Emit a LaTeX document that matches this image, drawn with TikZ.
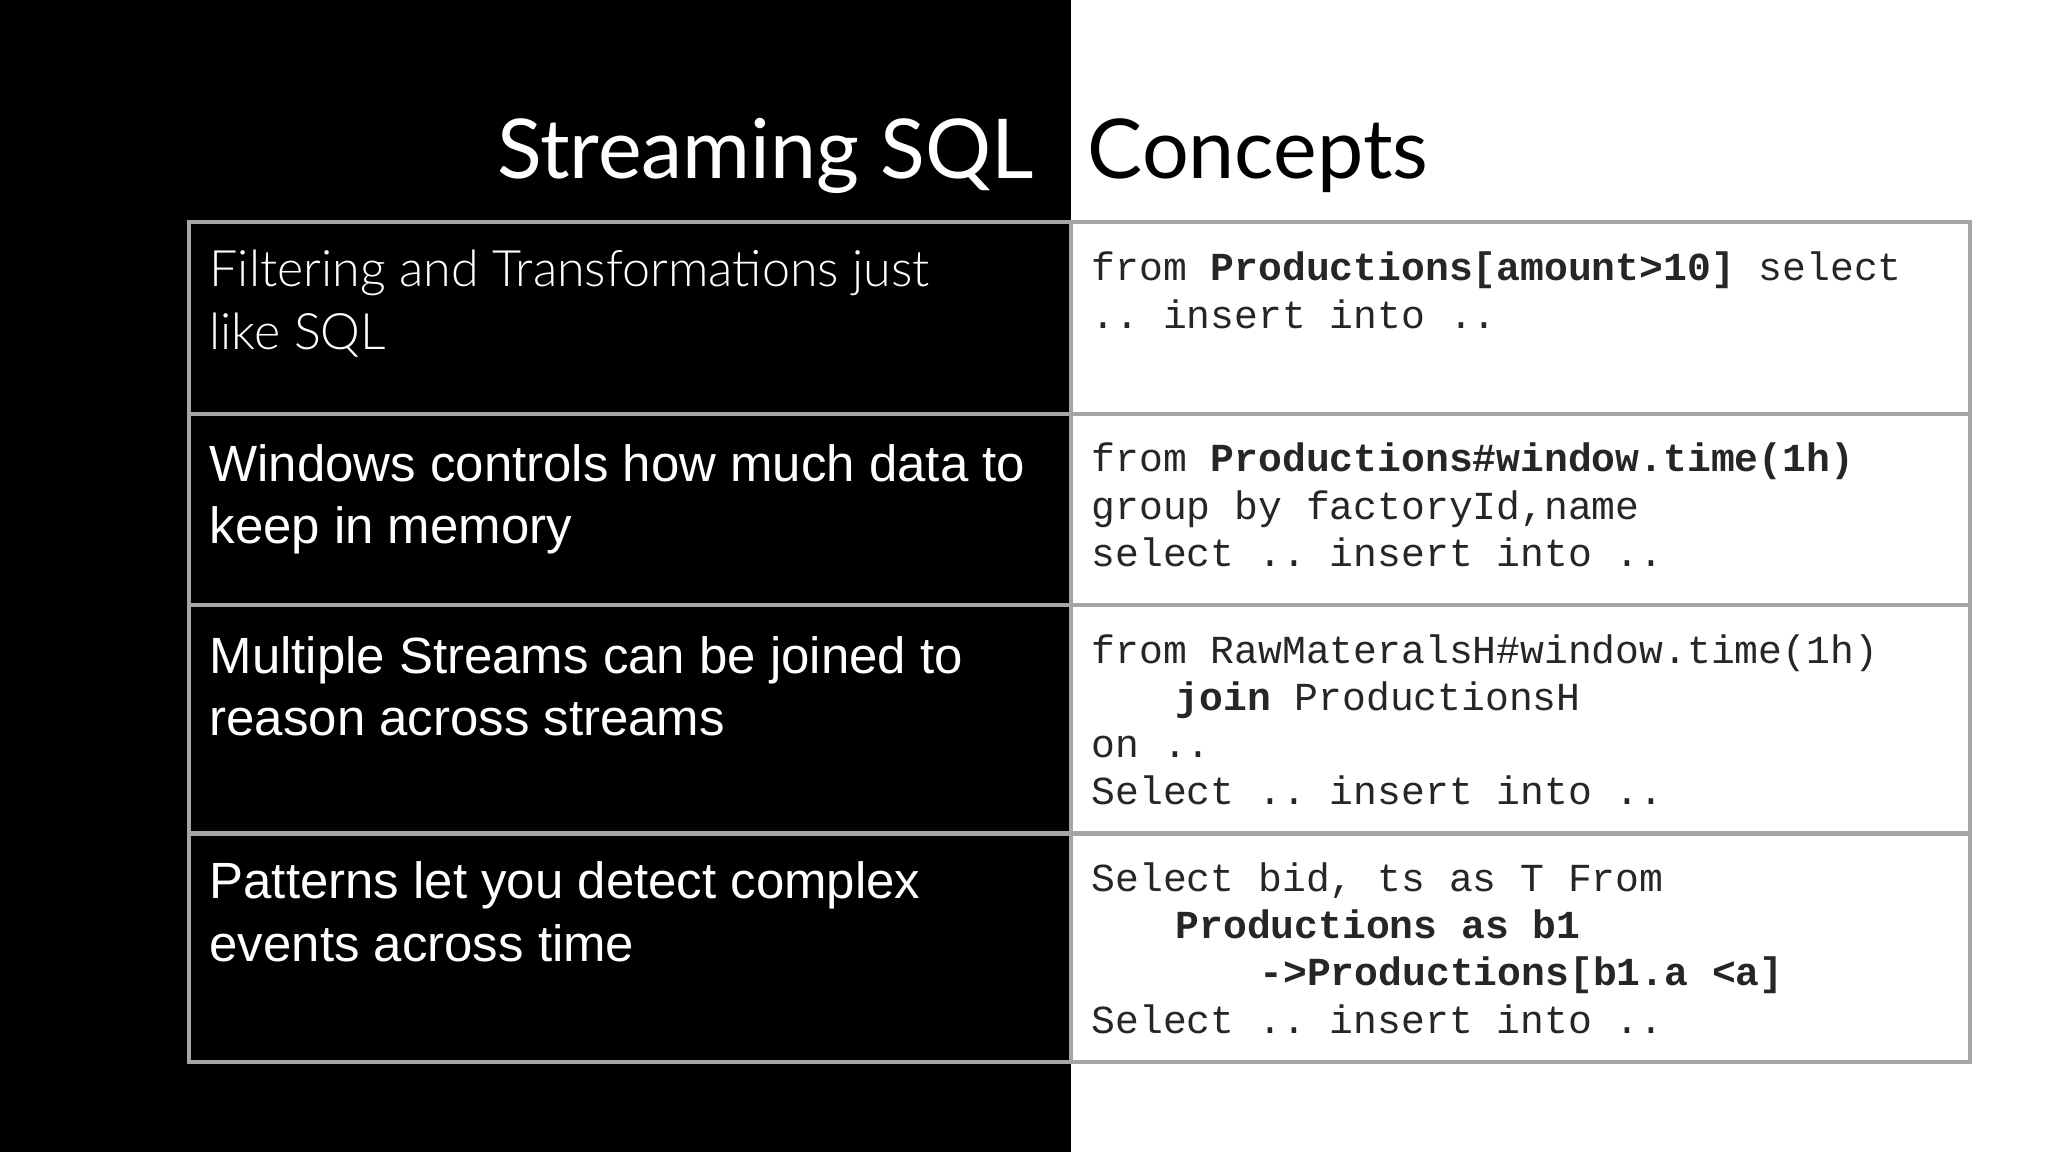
\documentclass[tikz,border=0pt]{standalone}
\usepackage{fontspec}
\setmainfont{Liberation Sans}
\setmonofont{Liberation Mono}
\newfontfamily\titlefont{Lato}
\newfontfamily\lightfont{Lato Light}
\begin{document}
\begin{tikzpicture}[x=0.0099cm,y=-0.0099cm,
  grid/.style={draw=black!35,line width=1.2pt},
  lefttxt/.style={anchor=north west,align=left,text=white,font=\fontsize{14.5}{17.8}\selectfont,inner sep=0pt},
  codetxt/.style={anchor=north west,align=left,text=black!85,font=\ttfamily\fontsize{11.3}{13.4}\selectfont,inner sep=0pt}]
\useasboundingbox (0,0) rectangle (2068.7,1163.6);
\fill[white] (0,0) rectangle (2068.7,1163.6);
\fill[black] (0,0) rectangle (1082,1163.6);
\node[anchor=base east,text=white,font=\titlefont\fontsize{23.5}{26}\selectfont,inner sep=0pt] (t1) at (1045,180) {Streaming SQL};
\node[anchor=base west,text=black,font=\titlefont\fontsize{23.5}{26}\selectfont,inner sep=0pt] (t2) at (1098,180) {Concepts};
\draw[grid] (191,224) rectangle (1990,1073);
\draw[grid] (1082,224) -- (1082,1073);
\draw[grid] (191,418) -- (1990,418);
\draw[grid] (191,611) -- (1990,611);
\draw[grid] (191,842) -- (1990,842);
\node[lefttxt,font=\lightfont\fontsize{14.3}{17.8}\selectfont] (l1) at (211,252) {Filtering and Transformations just\\like SQL};
\node[lefttxt] (l2) at (211,448) {Windows controls how much data to\\keep in memory};
\node[lefttxt] (l3) at (211,642) {Multiple Streams can be joined to\\reason across streams};
\node[lefttxt] (l4) at (211,870) {Patterns let you detect complex\\events across time};
\node[codetxt] (c1) at (1102,254) {from \textbf{Productions[amount>10]} select\\.. insert into ..};
\node[codetxt] (c2) at (1102,447) {from \textbf{Productions\#window.time(1h)}\\group by factoryId,name\\select .. insert into ..};
\node[codetxt] (c3) at (1102,640) {from RawMateralsH\#window.time(1h)\\\hspace*{4ex}\textbf{join} ProductionsH\\on ..\\Select .. insert into ..};
\node[codetxt] (c4) at (1102,871) {Select bid, ts as T From\\\hspace*{4ex}\textbf{Productions as b1}\\\hspace*{8ex}\textbf{->Productions[b1.a <a]}\\Select .. insert into ..};
\end{tikzpicture}
\end{document}
